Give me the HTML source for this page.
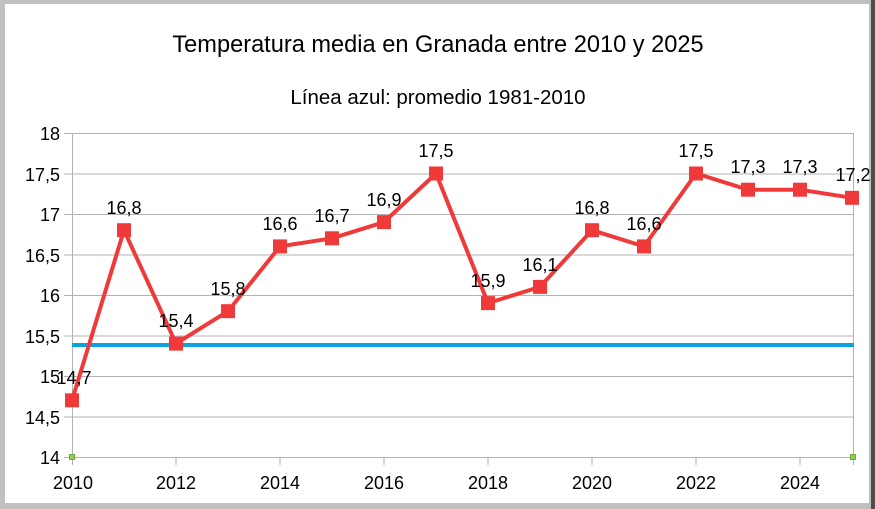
<!DOCTYPE html>
<html><head><meta charset="utf-8"><style>body{margin:0;background:#fff}svg{display:block;font-family:"Liberation Sans",sans-serif}</style></head><body>
<svg width="875" height="509" xmlns="http://www.w3.org/2000/svg">
<rect width="875" height="509" fill="#fff"/>
<rect x="0" y="0" width="875" height="4" fill="#c0c0c0"/>
<rect x="0" y="0" width="5" height="509" fill="#c0c0c0"/>
<rect x="0" y="503" width="875" height="6" fill="#c0c0c0"/>
<rect x="869" y="0" width="6" height="509" fill="#c0c0c0"/>
<rect x="871" y="0" width="4" height="509" fill="#000" opacity="0.6"/>
<text x="438" y="52" font-size="23.6" text-anchor="middle">Temperatura media en Granada entre 2010 y 2025</text>
<text x="438" y="104" font-size="20.5" text-anchor="middle">Línea azul: promedio 1981-2010</text>
<g stroke="#b3b3b3" stroke-width="1">
<line x1="64" y1="133.5" x2="854" y2="133.5"/><line x1="64" y1="174" x2="854" y2="174"/><line x1="64" y1="214.5" x2="854" y2="214.5"/><line x1="64" y1="255" x2="854" y2="255"/><line x1="64" y1="295.5" x2="854" y2="295.5"/><line x1="64" y1="336" x2="854" y2="336"/><line x1="64" y1="376.5" x2="854" y2="376.5"/><line x1="64" y1="417" x2="854" y2="417"/><line x1="64" y1="457.5" x2="854" y2="457.5"/>
<line x1="72.5" y1="133" x2="72.5" y2="465"/><line x1="853.5" y1="133" x2="853.5" y2="465"/>
<line x1="176" y1="457" x2="176" y2="465"/><line x1="280" y1="457" x2="280" y2="465"/><line x1="384" y1="457" x2="384" y2="465"/><line x1="488" y1="457" x2="488" y2="465"/><line x1="592" y1="457" x2="592" y2="465"/><line x1="696" y1="457" x2="696" y2="465"/><line x1="800" y1="457" x2="800" y2="465"/>
</g>
<g font-size="18" text-anchor="end">
<text x="60" y="140">18</text><text x="60" y="181">17,5</text><text x="60" y="221">17</text><text x="60" y="262">16,5</text><text x="60" y="302">16</text><text x="60" y="343">15,5</text><text x="60" y="383">15</text><text x="60" y="424">14,5</text><text x="60" y="464">14</text>
</g>
<g font-size="18" text-anchor="middle">
<text x="73" y="489">2010</text><text x="176" y="489">2012</text><text x="280" y="489">2014</text><text x="384" y="489">2016</text><text x="488" y="489">2018</text><text x="592" y="489">2020</text><text x="696" y="489">2022</text><text x="800" y="489">2024</text>
</g>
<line x1="72" y1="345" x2="854" y2="345" stroke="#0ba2e0" stroke-width="4"/>
<rect x="69.5" y="454.5" width="5" height="5" fill="#8fd14f" stroke="#5a9a20" stroke-width="0.8"/>
<rect x="850.5" y="454.5" width="5" height="5" fill="#8fd14f" stroke="#5a9a20" stroke-width="0.8"/>
<polyline fill="none" stroke="#f03a3a" stroke-width="4" stroke-linejoin="round" points="72,400.3 124,230.2 176,343.6 228,311.2 280,246.4 332,238.3 384,222.1 436,173.5 488,303.1 540,286.9 592,230.2 644,246.4 696,173.5 748,189.7 800,189.7 852,197.8"/>
<g fill="#f03a3a">
<rect x="65" y="393.3" width="14" height="14"/><rect x="117" y="223.2" width="14" height="14"/><rect x="169" y="336.6" width="14" height="14"/><rect x="221" y="304.2" width="14" height="14"/><rect x="273" y="239.4" width="14" height="14"/><rect x="325" y="231.3" width="14" height="14"/><rect x="377" y="215.1" width="14" height="14"/><rect x="429" y="166.5" width="14" height="14"/><rect x="481" y="296.1" width="14" height="14"/><rect x="533" y="279.9" width="14" height="14"/><rect x="585" y="223.2" width="14" height="14"/><rect x="637" y="239.4" width="14" height="14"/><rect x="689" y="166.5" width="14" height="14"/><rect x="741" y="182.7" width="14" height="14"/><rect x="793" y="182.7" width="14" height="14"/><rect x="845" y="190.8" width="14" height="14"/>
</g>
<g font-size="18" text-anchor="middle">
<text x="74" y="384">14,7</text><text x="124" y="214">16,8</text><text x="176" y="327">15,4</text><text x="228" y="295">15,8</text><text x="280" y="230">16,6</text><text x="332" y="222">16,7</text><text x="384" y="206">16,9</text><text x="436" y="157">17,5</text><text x="488" y="287">15,9</text><text x="540" y="271">16,1</text><text x="592" y="214">16,8</text><text x="644" y="230">16,6</text><text x="696" y="157">17,5</text><text x="748" y="173">17,3</text><text x="800" y="173">17,3</text><text x="853" y="181">17,2</text>
</g>
</svg>
</body></html>
